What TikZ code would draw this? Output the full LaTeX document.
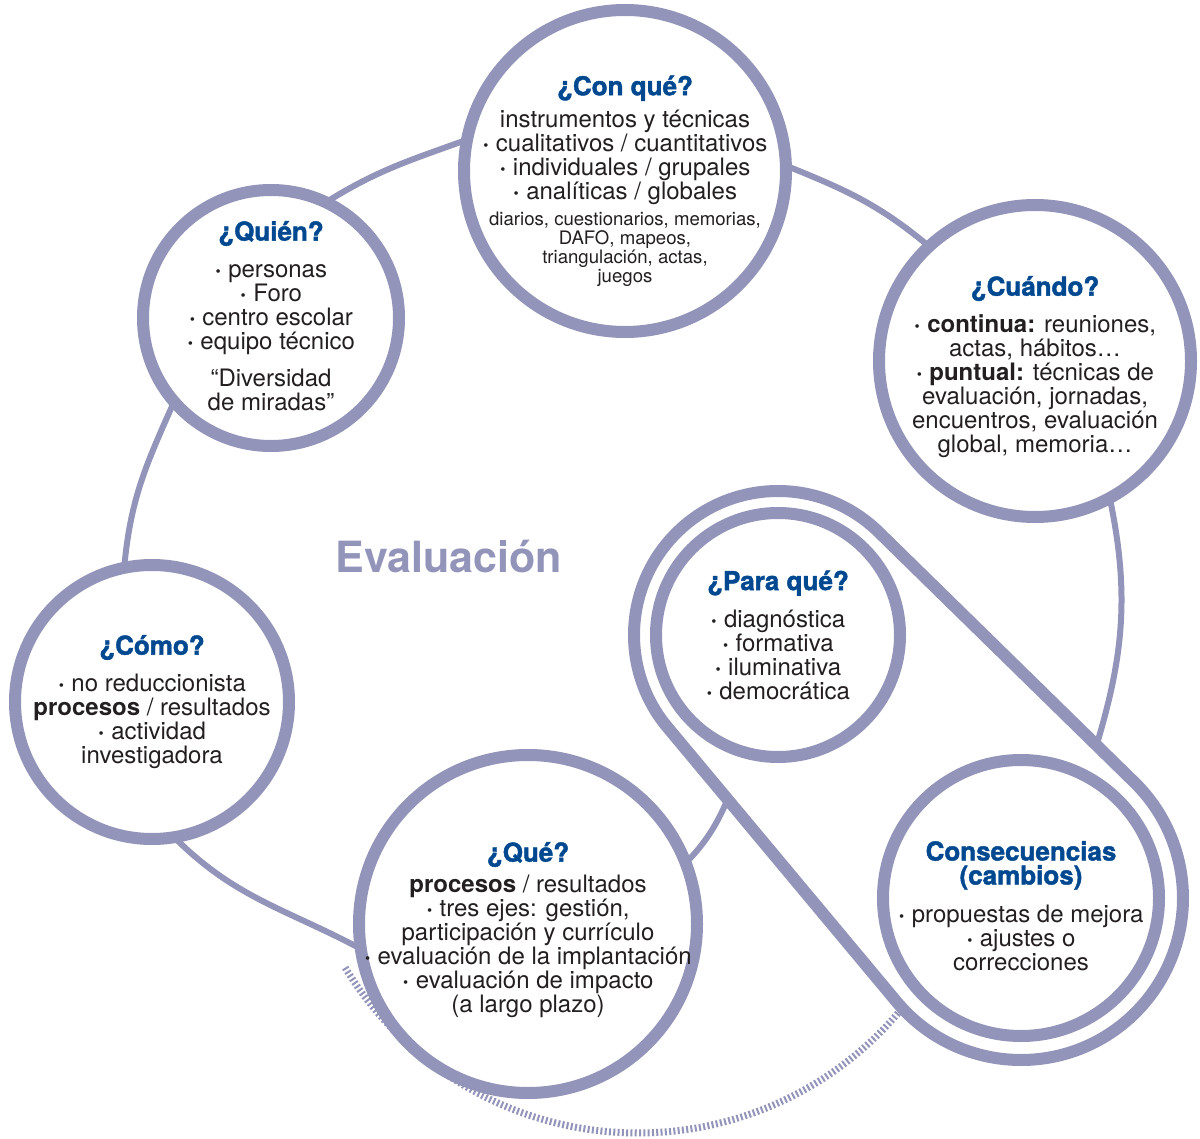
\documentclass[tikz,border=0pt]{standalone}
\usepackage{fontspec}
\setmainfont{TeX Gyre Heros}
\newfontfamily\heavyfont{TeX Gyre Heros}[BoldFeatures={FakeBold=1.6}]
\usepackage{tikz}
\usetikzlibrary{backgrounds, calc}
\definecolor{ringlila}{RGB}{146,148,185}
\definecolor{titleblue}{RGB}{0,73,144}
\definecolor{bodytext}{RGB}{35,31,32}
\newcommand{\bul}{{\bfseries ·}\ }
\newcommand{\ttl}[1]{{\fontsize{13}{13}\selectfont\heavyfont\bfseries\color{titleblue}#1}}
\newcommand{\sml}[1]{{\fontsize{9.3}{9.5}\selectfont #1}}

\begin{document}
\begin{tikzpicture}[
    x=0.5pt, y=0.5pt,
    question/.style={circle, draw=ringlila, line width=6pt, fill=white, inner sep=0pt, minimum size=#1},
    qtext/.style={align=center, text=bodytext, inner sep=0pt, font=\fontsize{12}{12}\selectfont},
    ringline/.style={draw=ringlila, line width=3pt, shorten <=-4pt, shorten >=-4pt},
    tickring/.style={draw=ringlila, line width=3.5pt, dash pattern=on 1pt off 1.15pt},
    pairloop/.style={draw=ringlila, line width=6pt, fill=white},
    evaltitle/.style={text=ringlila, font=\fontsize{21.5}{21.5}\selectfont\bfseries}
]
\useasboundingbox (0,0) rectangle (1200,-1139);

\node[question=128pt, label={[qtext, yshift=1pt]center:{\ttl{¿Quién?}\\[6.5pt]\bul personas\\\bul Foro\\\bul centro escolar\\\bul equipo técnico\\[6.5pt]“Diversidad\\de miradas”}}] (quien) at (271,-318) {};
\node[question=161pt, label={[qtext, yshift=-5pt]center:{\ttl{¿Con qué?}\\[4pt]instrumentos y técnicas\\\bul cualitativos / cuantitativos\\\bul individuales / grupales\\\bul analíticas / globales\\[1pt]\sml{diarios, cuestionarios, memorias,}\\[-2.5pt]\sml{DAFO, mapeos,}\\[-2.5pt]\sml{triangulación, actas,}\\[-2.5pt]\sml{juegos}}}] (conque) at (625,-171) {};
\node[question=156pt, label={[qtext, yshift=-3pt]center:{\ttl{¿Cuándo?}\\[6.5pt]\bul\textbf{continua:} reuniones,\\actas, hábitos…\\\bul\textbf{puntual:} técnicas de\\evaluación, jornadas,\\encuentros, evaluación\\global, memoria…}}] (cuando) at (1035,-361) {};
\node[question=137pt, label={[qtext]center:{\ttl{¿Cómo?}\\[6.5pt]\bul no reduccionista\\\textbf{procesos} / resultados\\\bul actividad\\investigadora}}] (como) at (152,-702) {};
\node[question=169pt, label={[qtext, yshift=-3pt]center:{\ttl{¿Qué?}\\[3.5pt]\textbf{procesos} / resultados\\\bul tres ejes: gestión,\\participación y currículo\\\bul evaluación de la implantación\\\bul evaluación de impacto\\(a largo plazo)}}] (que) at (528,-924) {};
\node[question=122pt, label={[qtext]center:{\ttl{¿Para qué?}\\[6.5pt]\bul diagnóstica\\\bul formativa\\\bul iluminativa\\\bul democrática}}] (paraque) at (778,-635) {};
\node[question=138pt, label={[qtext, yshift=-4pt]center:{\ttl{Consecuencias}\\\ttl{(cambios)}\\[7pt]\bul propuestas de mejora\\\bul ajustes o\\correcciones}}] (conse) at (1021,-898) {};
\node[evaltitle] (eval) at (449,-557) {Evaluación};

\begin{scope}[on background layer]
\fill[white] (0,0) rectangle (1200,-1139);
\draw[ringline] (quien.63) to[out=32, in=200] (conque.170);
\draw[ringline] (conque.1) to[out=-22, in=140] (cuando.133);
\draw[ringline] (cuando.-62) to[out=-78, in=72] (conse.62);
\draw[ringline] (quien.222) to[out=246, in=85] (como.101);
\draw[ringline] (como.-79) to[out=-45, in=152] (que.187);
\draw[ringline] (que.22) to[out=45, in=245] (paraque.-105);
\draw[tickring] (638,-791) ++(211.1:342) arc[start angle=211.1, end angle=325, radius=342];
\draw[pairloop] ($(paraque.center)+(45.61:144)$) arc[start angle=45.61, end angle=219.85, radius=144] -- ($(conse.center)+(219.85:162)$) arc[start angle=219.85, end angle=405.61, radius=162] -- cycle;
\end{scope}

\end{tikzpicture}
\end{document}
